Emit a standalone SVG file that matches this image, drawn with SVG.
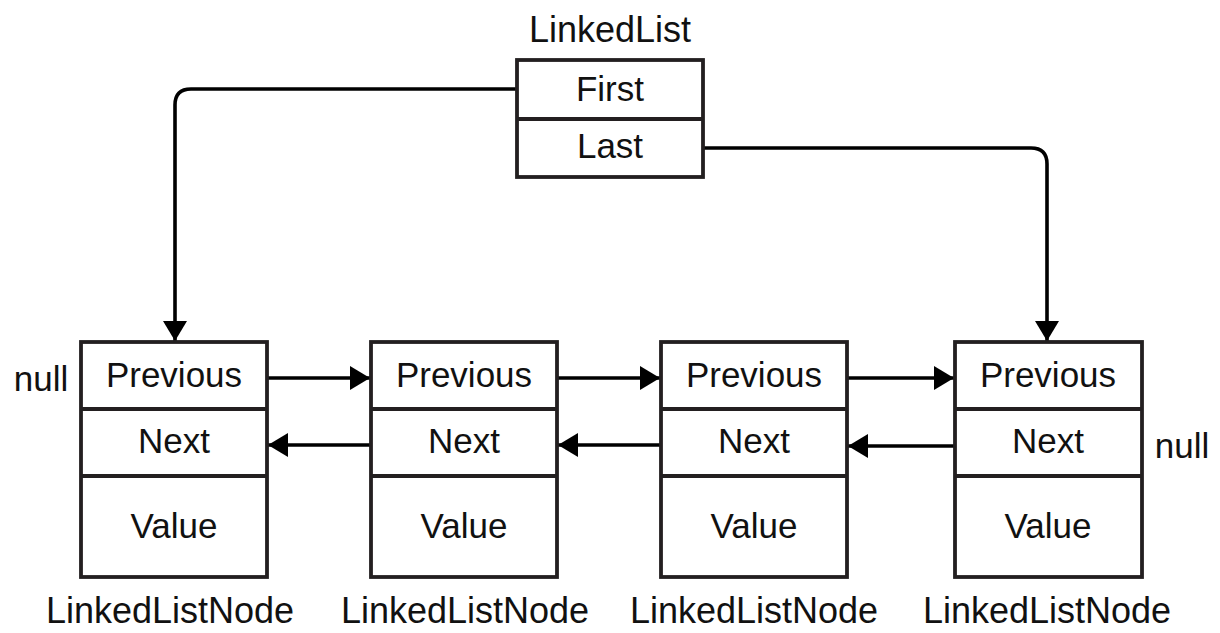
<svg xmlns="http://www.w3.org/2000/svg" width="1220" height="633" viewBox="0 0 1220 633">
<style>
.box{fill:#fff;stroke:#231f20;stroke-width:3.8}
.div{stroke:#231f20;stroke-width:3.8}
.t{font-family:"Liberation Sans",Arial,sans-serif;font-size:35px;fill:#111;text-anchor:middle}
.lbl{font-family:"Liberation Sans",Arial,sans-serif;font-size:36px;fill:#111;text-anchor:middle}
.c{fill:none;stroke:#000;stroke-width:3.6;marker-end:url(#ah)}
</style>
<defs>
<marker id="ah" markerUnits="userSpaceOnUse" markerWidth="22" markerHeight="26" refX="20" refY="12" orient="auto" overflow="visible">
<path d="M0,0 L20,12 L0,24 z" fill="#000"/>
</marker>
</defs>
<rect width="1220" height="633" fill="#fff"/>
<g id="connectors">
<path class="c" d="M517,89 H191 Q175,89 175,105 V341"/>
<path class="c" d="M703,148 H1031 Q1047,148 1047,164 V341"/>
<path class="c" d="M267,378 H370"/>
<path class="c" d="M557,378 H660"/>
<path class="c" d="M847,378 H954"/>
<path class="c" d="M371,445 H268"/>
<path class="c" d="M661,445 H558"/>
<path class="c" d="M955,446 H848"/>
</g>
<g id="linkedlist">
<text class="lbl" x="610" y="42">LinkedList</text>
<rect class="box" x="517" y="60" width="186" height="117"/>
<line class="div" x1="517" y1="119" x2="703" y2="119"/>
<text class="t" x="610" y="101">First</text>
<text class="t" x="610" y="158">Last</text>
</g>
<g id="node1">
<rect class="box" x="81" y="342" width="186" height="235"/>
<line class="div" x1="81" y1="409" x2="267" y2="409"/>
<line class="div" x1="81" y1="476" x2="267" y2="476"/>
<text class="t" x="174" y="387">Previous</text>
<text class="t" x="174" y="453">Next</text>
<text class="t" x="174" y="538">Value</text>
<text class="lbl" x="170" y="623">LinkedListNode</text>
</g>
<g id="node2">
<rect class="box" x="371" y="342" width="186" height="235"/>
<line class="div" x1="371" y1="409" x2="557" y2="409"/>
<line class="div" x1="371" y1="476" x2="557" y2="476"/>
<text class="t" x="464" y="387">Previous</text>
<text class="t" x="464" y="453">Next</text>
<text class="t" x="464" y="538">Value</text>
<text class="lbl" x="465" y="623">LinkedListNode</text>
</g>
<g id="node3">
<rect class="box" x="661" y="342" width="186" height="235"/>
<line class="div" x1="661" y1="409" x2="847" y2="409"/>
<line class="div" x1="661" y1="476" x2="847" y2="476"/>
<text class="t" x="754" y="387">Previous</text>
<text class="t" x="754" y="453">Next</text>
<text class="t" x="754" y="538">Value</text>
<text class="lbl" x="754" y="623">LinkedListNode</text>
</g>
<g id="node4">
<rect class="box" x="955" y="342" width="187" height="235"/>
<line class="div" x1="955" y1="409" x2="1142" y2="409"/>
<line class="div" x1="955" y1="476" x2="1142" y2="476"/>
<text class="t" x="1048" y="387">Previous</text>
<text class="t" x="1048" y="453">Next</text>
<text class="t" x="1048" y="538">Value</text>
<text class="lbl" x="1047" y="623">LinkedListNode</text>
</g>
<g id="nulls">
<text class="t" x="41" y="391">null</text>
<text class="t" x="1182" y="458">null</text>
</g>
</svg>
